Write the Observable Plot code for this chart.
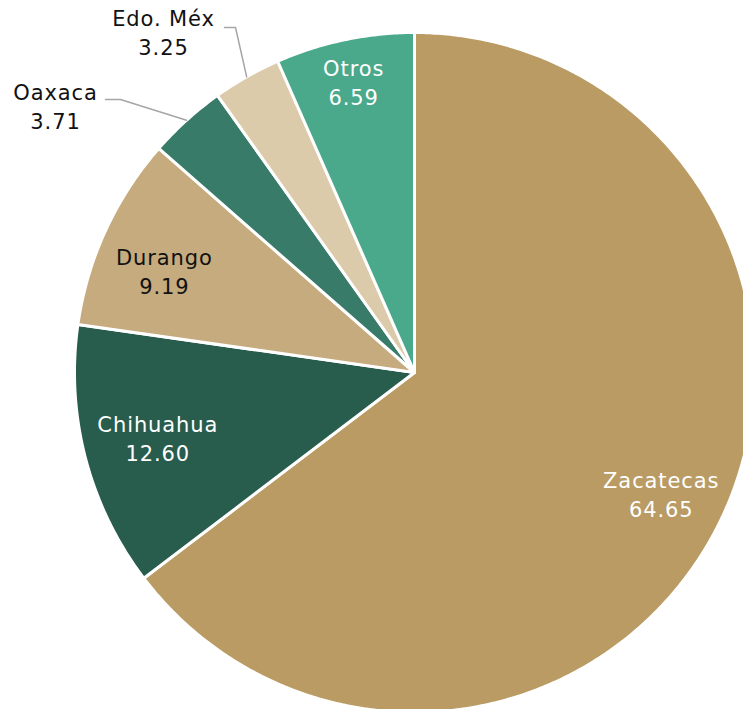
<!DOCTYPE html>
<html><head><meta charset="utf-8">
<script src="https://cdn.jsdelivr.net/npm/d3@7"></script>
<script src="https://cdn.jsdelivr.net/npm/@observablehq/plot@0.6"></script>
<style>html,body{margin:0;padding:0;background:#fff;overflow:hidden} svg text{letter-spacing:0.9px}</style>
</head><body><div id="chart"></div>
<script>
// ---- data ----
const states = ["Zacatecas", "Chihuahua", "Durango", "Oaxaca", "Edo. Méx", "Otros"];
const shares = [64.65, 12.60, 9.19, 3.71, 3.25, 6.59];
const sliceColors = ["#b99b63", "#285c4d", "#c5ab7d", "#377b68", "#dccbab", "#4aa88b"];
const textColors = ["#ffffff", "#ffffff", "#111111", "#111111", "#111111", "#ffffff"];
const outsideLabels = ["Oaxaca", "Edo. Méx"];

// ---- layout ----
const W = 743, H = 709, CX = 414, CY = 372, R = 340;
const FONT = "DejaVu Sans";
const insideRadius = {"Zacatecas": 0.81, "Chihuahua": 0.78, "Durango": 0.79, "Otros": 0.87};
const insideNudge = {"Zacatecas": [0, -2], "Chihuahua": [0, -2], "Durango": [-6, 10], "Otros": [0, -2]};
// outside label layout: elbow point and text center (pixels)
const outsideLayout = {
  "Oaxaca":   {elbow: [120, 99], end: [105, 99], text: [55, 105]},
  "Edo. Méx": {elbow: [235, 27], end: [224, 27], text: [163, 31]}
};

const data = states.map((s, i) => ({name: s, value: shares[i], color: sliceColors[i], tc: textColors[i]}));
const arcs = d3.pie().sort(null).value(d => d.value)(data);
const pt = (a, r) => [CX + r * Math.sin(a), CY - r * Math.cos(a)];

const poly = [];
for (const a of arcs) {
  poly.push({name: a.data.name, x: CX, y: CY});
  const n = Math.max(2, Math.ceil((a.endAngle - a.startAngle) / (Math.PI / 360)));
  for (let k = 0; k <= n; k++) {
    const t = a.startAngle + (a.endAngle - a.startAngle) * k / n;
    const [x, y] = pt(t, R);
    poly.push({name: a.data.name, x, y});
  }
}

const inside = arcs.filter(a => !outsideLabels.includes(a.data.name)).map(a => {
  const m = (a.startAngle + a.endAngle) / 2;
  const [x, y] = pt(m, R * insideRadius[a.data.name]);
  const [dx, dy] = insideNudge[a.data.name];
  return {x: x + dx, y: y + dy, text: `${a.data.name}\n${a.data.value.toFixed(2)}`, tc: a.data.tc};
});

const connectors = [];
const outside = [];
for (const a of arcs.filter(a => outsideLabels.includes(a.data.name))) {
  const m = (a.startAngle + a.endAngle) / 2;
  const [ex, ey] = pt(m, R);
  const L = outsideLayout[a.data.name];
  connectors.push({name: a.data.name, x: ex, y: ey});
  connectors.push({name: a.data.name, x: L.elbow[0], y: L.elbow[1]});
  connectors.push({name: a.data.name, x: L.end[0], y: L.end[1]});
  outside.push({x: L.text[0], y: L.text[1], text: `${a.data.name}\n${a.data.value.toFixed(2)}`});
}

const chart = Plot.plot({
  width: W, height: H,
  margin: 0,
  x: {domain: [0, W], range: [0, W], axis: null},
  y: {domain: [0, H], range: [0, H], axis: null},
  color: {domain: states, range: sliceColors},
  style: {fontFamily: FONT, background: "#fff"},
  marks: [
    Plot.line(poly, {x: "x", y: "y", z: "name", fill: "name", stroke: "#ffffff", strokeWidth: 3,
      strokeLinejoin: "round", curve: "linear-closed"}),
    Plot.line(connectors, {x: "x", y: "y", z: "name", stroke: "#a6a6a6", strokeWidth: 1.5, curve: "linear"}),
    Plot.text(inside, {x: "x", y: "y", text: "text", fill: "tc", fontSize: 21, lineHeight: 1.38}),
    Plot.text(outside, {x: "x", y: "y", text: "text", fill: "#111111", fontSize: 21, lineHeight: 1.38})
  ]
});
document.getElementById("chart").appendChild(chart);
</script>
</body></html>
